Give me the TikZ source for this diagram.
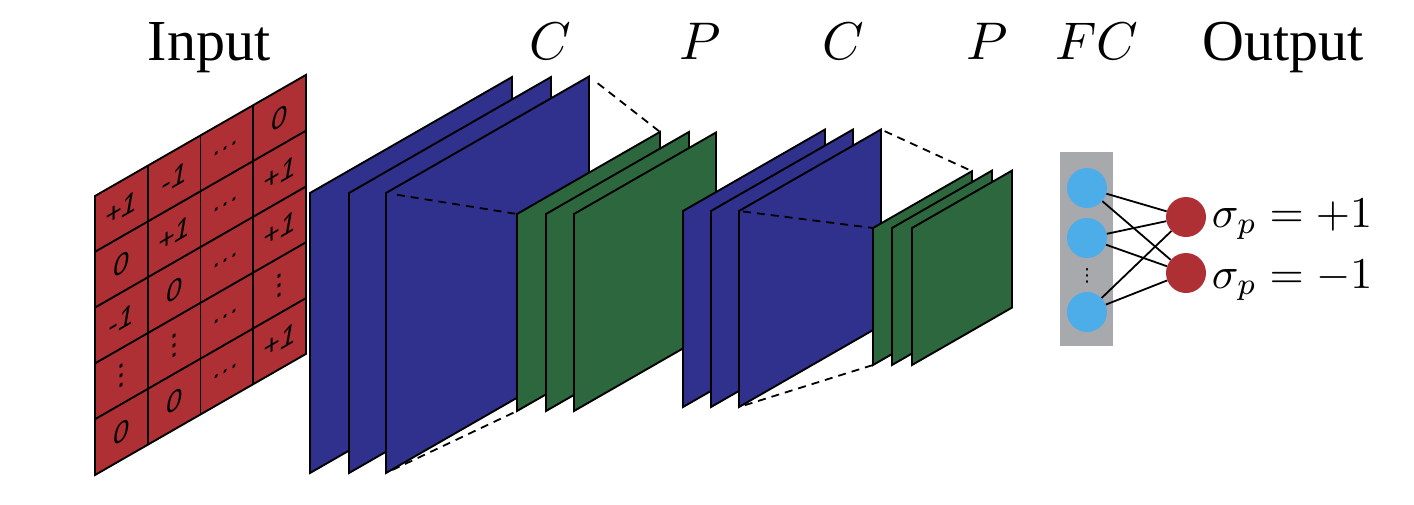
\documentclass[tikz,border=0pt]{standalone}
\usepackage{fontspec}
\newfontfamily\titlefont{Liberation Serif}
\newfontfamily\cellfont{Liberation Sans}
\newfontfamily\symfont{DejaVu Sans}
\definecolor{inred}{HTML}{AF3034}
\definecolor{cblue}{HTML}{2F318C}
\definecolor{pgreen}{HTML}{2D673D}
\definecolor{fcgray}{HTML}{A7A9AC}
\definecolor{nblue}{HTML}{4DADE8}
\tikzset{
  plane/.style={draw=black, line width=1.9pt},
  gridline/.style={draw=black, line width=1.9pt},
  proj/.style={line width=1.8pt, dash pattern=on 8pt off 6pt},
  celltext/.style={yslant=0.574, inner sep=0, font=\cellfont\itshape\fontsize{28}{28}\selectfont},
  ttl/.style={anchor=base, inner sep=0, font=\titlefont\fontsize{58}{60}\selectfont},
  mlab/.style={anchor=base, inner sep=0, scale=5.3},
  olab/.style={anchor=base west, inner sep=0, scale=4.4},
  neuron/.style={circle, inner sep=0, minimum size=40pt, fill=nblue},
  outn/.style={circle, inner sep=0, minimum size=40pt, fill=inred},
  conn/.style={draw=black, line width=1.8pt},
}
% name, left x, top-left y, width, height, colour
\newcommand\drawplane[6]{%
  \coordinate (#1-tl) at (#2,#3);
  \coordinate (#1-tr) at ({#2+#4},{#3-0.574*#4});
  \coordinate (#1-br) at ({#2+#4},{#3-0.574*#4+#5});
  \coordinate (#1-bl) at (#2,{#3+#5});
  \draw[plane,fill=#6] (#1-tl) -- (#1-tr) -- (#1-br) -- (#1-bl) -- cycle;
}
\begin{document}
\begin{tikzpicture}[x=1pt,y=-1pt]
\useasboundingbox (0,0) rectangle (1414,504);

% ---- input grid
\drawplane{in}{95}{196}{211}{279}{inred}
\foreach \k in {1,2,3}
  \draw[gridline] ({95+\k*52.75},{196-0.574*\k*52.75}) -- ++(0,279);
\foreach \k in {1,2,3,4}
  \draw[gridline] (95,{196+\k*55.8}) -- ++(211,{-0.574*211});
\foreach \r/\c/\txt in {
  1/1/+1, 1/2/-1, 1/3/\ldots, 1/4/0,
  2/1/0,  2/2/+1, 2/3/\ldots, 2/4/+1,
  3/1/-1, 3/2/0,  3/3/\ldots, 3/4/+1,
  4/1/{{\symfont\itshape ⋮}}, 4/2/{{\symfont\itshape ⋮}}, 4/3/\ldots, 4/4/{{\symfont\itshape ⋮}},
  5/1/0,  5/2/0,  5/3/\ldots, 5/4/+1}{
  \pgfmathsetmacro\cx{95+(\c-0.5)*52.75}
  \pgfmathsetmacro\cy{196+(\r-0.5)*55.8-0.574*(\c-0.5)*52.75}
  \node[celltext] (cell\r\c) at (\cx,\cy) {\txt};
}

% ---- first convolution block
\drawplane{b1}{310}{193}{202}{280}{cblue}
\drawplane{b2}{349}{193}{202}{280}{cblue}
\drawplane{b3}{386}{193}{203}{280}{cblue}
% ---- first pooling block
\drawplane{g1}{517}{214}{143}{197}{pgreen}
\drawplane{g2}{546}{214}{143}{197}{pgreen}
\drawplane{g3}{574}{214}{142}{197}{pgreen}
% ---- second convolution block
\drawplane{b4}{683}{211}{142}{196}{cblue}
\drawplane{b5}{711}{211}{142}{196}{cblue}
\drawplane{b6}{739}{211}{142}{196}{cblue}
% ---- second pooling block
\drawplane{g4}{873}{228}{99}{137}{pgreen}
\drawplane{g5}{892}{228}{100}{137}{pgreen}
\drawplane{g6}{912}{228}{100}{137}{pgreen}

% ---- projection lines
\draw[proj, shorten <=11pt] (b3-tl) -- (g1-tl);
\draw[proj, shorten <=11pt] (b3-tr) -- (g1-tr);
\draw[proj, shorten <=7pt] (b3-bl) -- (g1-bl);
\draw[proj, shorten <=4pt] (b6-tl) -- (g4-tl);
\draw[proj, shorten <=4pt] (b6-tr) -- (g4-tr);
\draw[proj, shorten <=6pt] (b6-bl) -- (g4-bl);

% ---- fully connected part
\node[fill=fcgray, inner sep=0, minimum width=53pt, minimum height=194pt] (fcbox) at (1086.5,249) {};
\node[neuron] (n1) at (1087,188) {};
\node[neuron] (n2) at (1087,238) {};
\node[neuron] (n3) at (1087,312) {};
\node[inner sep=0, font=\symfont\fontsize{18}{18}\selectfont] (ndots) at (1087,276) {⋮};
\node[outn] (o1) at (1186,217) {};
\node[outn] (o2) at (1186,273) {};
\foreach \i in {1,2,3}
  \foreach \j in {1,2}
    \draw[conn] (n\i) -- (o\j);
\node[olab] (l1) at (1211,227) {$\sigma_p = +1$};
\node[olab] (l2) at (1211,288) {$\sigma_p = -1$};

% ---- titles
\node[ttl] (tin) at (209,60) {Input};
\node[ttl] (tout) at (1283,60) {Output};
\node[mlab] (tc1) at (550,59) {$C$};
\node[mlab] (tp1) at (700,59) {$P$};
\node[mlab] (tc2) at (843,59) {$C$};
\node[mlab] (tp2) at (987,59) {$P$};
\node[mlab] (tfc) at (1097,59) {$FC$};
\end{tikzpicture}
\end{document}
